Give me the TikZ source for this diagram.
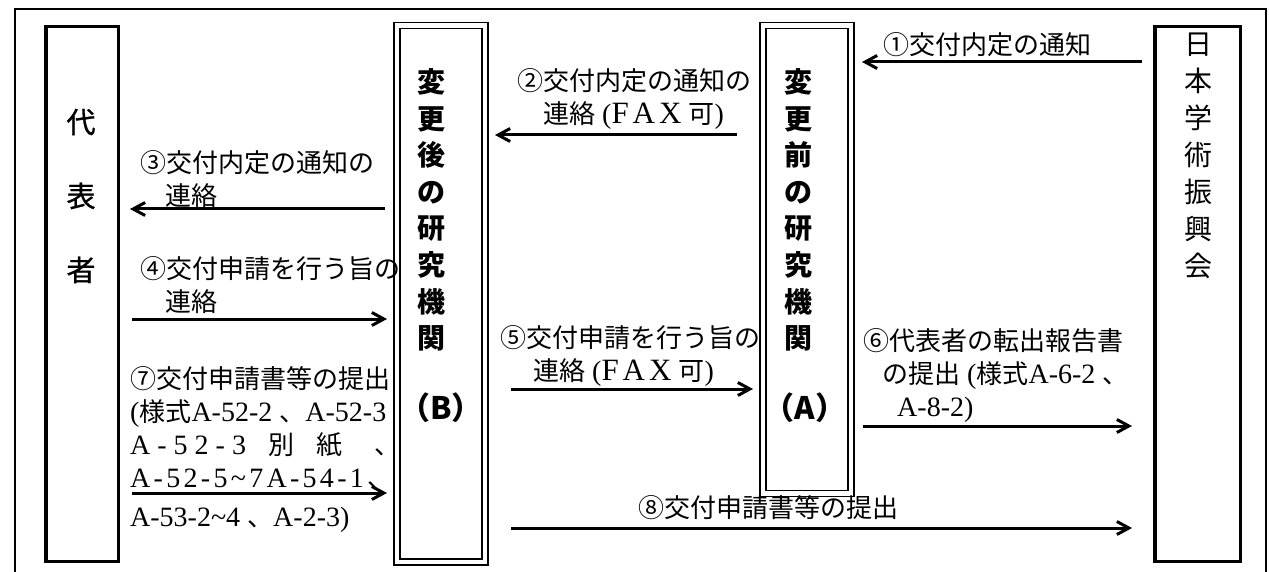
\documentclass[tikz,border=0pt]{standalone}
\usepackage{fontspec}
\setmainfont{Noto Sans CJK JP}
\newfontfamily\lat{Liberation Serif}
\newfontfamily\jpheavy[FakeBold=1]{Noto Sans CJK JP}
\usetikzlibrary{arrows.meta,calc}
\newcommand\LT[1]{{\lat\fontsize{28}{33}\selectfont #1}}
\newcommand\FAXtxt{{\fontsize{31}{33}\selectfont\hbox to 70pt{F\hfil A\hfil X}}}
\tikzset{
  thickbox/.style={draw, line width=3.5pt, inner sep=0pt, outer sep=0pt},
  dblbox/.style={draw, double, line width=1.2pt, double distance=4.8pt, inner sep=0pt, outer sep=0pt},
  arr/.style={line width=3pt, -{Straight Barb[length=12pt,width=13pt]}},
  lab/.style={inner sep=0pt, anchor=west, align=left, font=\fontsize{26}{33}\selectfont},
  vtxt/.style={inner sep=0pt, align=center},
  frameline/.style={line width=2pt},
}
\begin{document}
\begin{tikzpicture}[x=1pt,y=-1pt]
\useasboundingbox (0,0) rectangle (1269,572);
% outer frame
\draw[frameline] (15,580) -- (15,9) -- (1266,9) -- (1266,580);
% boxes
\node[thickbox, minimum width=72.5pt, minimum height=534.5pt] (R) at (82,294) {};
\node[dblbox, minimum width=88pt, minimum height=536.5pt] (B) at (441,293.75) {};
\node[dblbox, minimum width=88pt, minimum height=468pt] (A) at (807,259.5) {};
\node[thickbox, minimum width=85.5pt, minimum height=534.5pt] (J) at (1197.5,294) {};
% box texts
\node[vtxt, font={\jpheavy\fontsize{29}{74}\selectfont}] (Rt) at (81,196) {代\\表\\者};
\node[vtxt, font=\bfseries\fontsize{28}{36.6}\selectfont] (Bt) at (431,210) {変\\更\\後\\の\\研\\究\\機\\関};
\node[vtxt, font=\bfseries\fontsize{31}{33}\selectfont] (Bl) at (441,408) {（B）};
\node[vtxt, font=\bfseries\fontsize{28}{36.6}\selectfont] (At) at (798,210) {変\\更\\前\\の\\研\\究\\機\\関};
\node[vtxt, font=\bfseries\fontsize{31}{33}\selectfont] (Al) at (805,408) {（A）};
\node[vtxt, font=\fontsize{28}{37}\selectfont] (Jt) at (1198,156) {日\\本\\学\\術\\振\\興\\会};
% labels
\node[lab] (l1) at (883,45) {①交付内定の通知};
\node[lab] (l2) at (517,98.5) {②交付内定の通知の\\\hspace*{26pt}連絡\LT{\ (\FAXtxt\ }可\LT{)}};
\node[lab] (l3) at (140,179) {③交付内定の通知の\\\hspace*{25pt}連絡};
\node[lab] (l4) at (140,285) {④交付申請を行う旨の\\\hspace*{25pt}連絡};
\node[lab] (l5) at (500,356) {⑤交付申請を行う旨の\\\hspace*{33pt}連絡\LT{\ (\FAXtxt\ }可\LT{)}};
\node[lab] (l6) at (863,375) {⑥代表者の転出報告書\\\hspace*{19pt}の提出\LT{\ (}様式\LT{A-6-2\ }、\\\hspace*{34pt}\LT{A-8-2)}};
\node[lab] (l7) at (130,449) {⑦交付申請書等の提出\\
  \LT{(}様式\LT{A-52-2\ }、\LT{A-52-3}\\
  \LT{A - 5 2 - 3}\hspace{22pt}別\hspace{22pt}紙\hspace{32pt}、\\
  \hbox to 263pt{{\lat\fontsize{28}{33}\selectfont A\hfil-\hfil5\hfil2\hfil-\hfil5\hfil\textasciitilde\hfil7\hfil A\hfil-\hfil5\hfil4\hfil-\hfil1}\hfil 、}\\[6pt]
  \LT{A-53-2\textasciitilde4\ }、\LT{A-2-3)}};
\node[lab] (l8) at (638,508) {⑧交付申請書等の提出};
% arrow levels
\coordinate (y1) at (0,62);
\coordinate (y2) at (0,135);
\coordinate (y3) at (0,209);
\coordinate (y4) at (0,319);
\coordinate (y5) at (0,389);
\coordinate (y6) at (0,426);
\coordinate (y7) at (0,493);
\coordinate (y8) at (0,528);
% arrows
\draw[arr] ($(J.west|-y1)+(-12.75,0)$) -- ($(A.east|-y1)+(11,0)$);
\draw[arr] ($(A.west|-y2)+(-26,0)$) -- ($(B.east|-y2)+(10,0)$);
\draw[arr] ($(B.west|-y3)+(-12,0)$) -- ($(R.east|-y3)+(11.75,0)$);
\draw[arr] ($(R.east|-y4)+(13.75,0)$) -- ($(B.west|-y4)+(-10,0)$);
\draw[arr] ($(B.east|-y5)+(26,0)$) -- ($(A.west|-y5)+(-10,0)$);
\draw[arr] ($(A.east|-y6)+(12,0)$) -- ($(J.west|-y6)+(-22.75,0)$);
\draw[arr] ($(R.east|-y7)+(13.75,0)$) -- ($(B.west|-y7)+(-10,0)$);
\draw[arr] ($(B.east|-y8)+(26,0)$) -- ($(J.west|-y8)+(-22.75,0)$);
\end{tikzpicture}
\end{document}
